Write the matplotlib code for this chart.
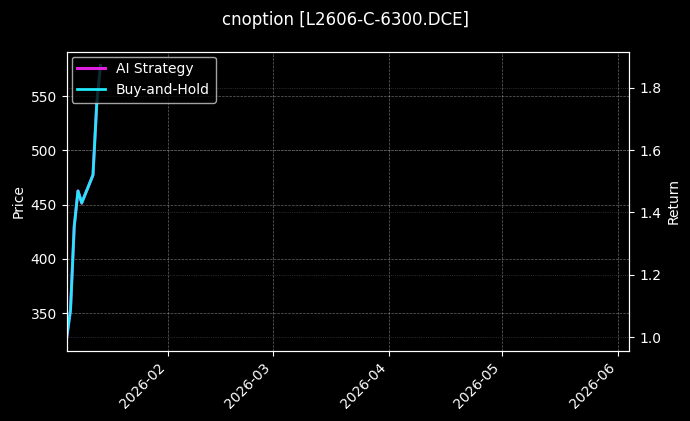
import matplotlib
matplotlib.use("Agg")
import matplotlib.pyplot as plt
import matplotlib.dates as mdates
import pandas as pd

# ---- data ----
dates = ["2026-01-05", "2026-01-06", "2026-01-07", "2026-01-08", "2026-01-09",
         "2026-01-12", "2026-01-13", "2026-01-14"]
price = [327.5, 350.8, 427.8, 460.9, 449.9, 475.5, 540.7, 578.5]
ai_strategy = [1.000, 1.087, 1.355, 1.469, 1.431, 1.520, 1.747, 1.871]
buy_and_hold = [1.000, 1.087, 1.355, 1.469, 1.431, 1.520, 1.747, 1.871]
x_start = "2026-01-05"
x_end = "2026-06-04"
title = "cnoption [L2606-C-6300.DCE]"

dt = pd.to_datetime(dates)

plt.style.use("dark_background")
fig = plt.figure(figsize=(6.9, 4.21), dpi=100)
ax1 = fig.add_axes([0.0967, 0.1663, 0.8153, 0.7107])
ax2 = ax1.twinx()

ax1.plot(dt, price, color="white", linewidth=1, alpha=0.4)
ax1.set_ylabel("Price")
ax1.grid(True, linestyle="--", linewidth=0.5, alpha=0.4)

ax2.plot(dt, ai_strategy, color="#e020e0", linewidth=2.2, label="AI Strategy")
ax2.plot(dt, buy_and_hold, color="#20e8f8", linewidth=2, label="Buy-and-Hold")
ax2.set_ylabel("Return")
ax2.grid(True, linestyle=":", linewidth=0.5, alpha=0.3)

ax1.set_xlim(pd.Timestamp(x_start), pd.Timestamp(x_end))
ax1.xaxis.set_major_locator(mdates.MonthLocator())
ax1.xaxis.set_major_formatter(mdates.DateFormatter("%Y-%m"))
for lbl in ax1.get_xticklabels():
    lbl.set_rotation(45)
    lbl.set_ha("right")

ax2.legend(loc="upper left", framealpha=0.8, borderaxespad=0.35)
fig.suptitle(title, fontsize=12, y=0.975)

fig.savefig("out.png", dpi=100)
